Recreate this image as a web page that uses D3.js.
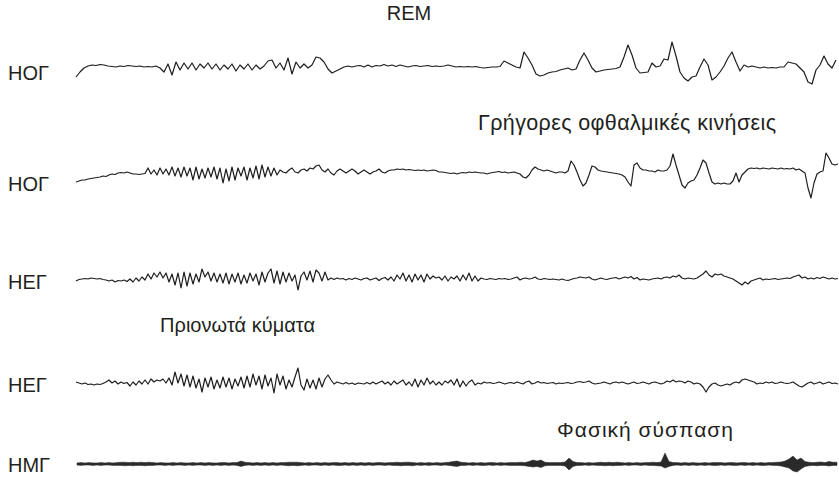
<!DOCTYPE html>
<html>
<head>
<meta charset="utf-8">
<script src="https://cdn.jsdelivr.net/npm/d3@7"></script>
<style>
  html, body { margin: 0; padding: 0; background: #ffffff; }
  svg text { font-family: "Liberation Sans", Arial, Helvetica, sans-serif; fill: #231f20; }
</style>
</head>
<body>
<svg id="chart" width="839" height="477"></svg>
<script>
// ---- Data (amplitudes in arbitrary units, positive = upward deflection) ----
const title = "REM";
const channelLabels = ["ΗΟΓ", "ΗΟΓ", "ΗΕΓ", "ΗΕΓ", "ΗΜΓ"];
const annotations = ["Γρήγορες οφθαλμικές κινήσεις", "Πριονωτά κύματα", "Φασική σύσπαση"];

// Top EOG channel
const eog1 = [-10,-5,-1,1,2,1.5,2.5,2,1,0.5,
  0,1,0.5,1.5,1,0.5,1,0,0.5,0,
  1,-1,-5,3,-8,5,-3,4,-2,4,
  -3,3,-1,4,-2,3,-3,2,-2,3,
  -4,2,-2,3,-3,2,-2,1,6,7,
  -1,4,-3,9,-7,5,-1,3,-1,2,
  10,9,5,-2,-6,-4,-2,0,1,0,
  1,1.5,0,2,0,1.5,1,2.5,1,2,
  0.5,2,1,0,1,1.5,0.5,1,1.5,0.5,
  1,0.5,1,2,1,0,0.5,0,0.5,0,
  0.5,-0.5,-1,-0.5,0,0,0.5,6,4,2,
  0,-1,15,9,2,-7,-9,-8,-6,-5,
  -4.5,-3,-2,-1,-3,-2,7,14,7,-1,
  -5,-4,-3,-2.5,-2,-1.5,0,10,22,12,
  -1,-6,-5.5,-5,4,0,1,8,7,25,
  11,-5,-11,-14,-10,-9,0,8,2,-13,
  -10,-5,1,9,15,5,-4,2,0,1,
  0,-1,0,-1,-0.5,-1,0,0,5,4,
  3,-1,-5,-15,-17,-3,2,11,3,-1,
  7];

// Second EOG channel
const eog2 = [-9,-8,-7,-7,-6,-5.5,-5,-4.5,-4,-3,
  -3.5,-2,-1,-1.5,0,0.5,0,1,0,-1,
  -1,-1.5,-1,-0.5,5,-1,3,-2,5,-1,
  4,-2,6,-3,5,-4,
  6,-3,5,-7,6,-6,4,-5,5,-4,
  6,-6,5,-10,4,-8,6,-7,5,-3,
  6,-7,5,-5,7,-6,8,-4,6,-3,
  5,-2,
  3,1,0,3,5,1,0,3,4,2,
  5,4,7,8,3,1,4,0,-2,2,
  4,2,0,2,4,2,-1,1,3,1,
  -1,1,2,4,1,0,2,3,3,4,
  3.5,4,3,3.5,3,2.5,3,2.5,3,2,
  2.5,3,2.5,1,
  1,0.5,0,-0.5,0,-1,0,0.5,0,1,
  0.5,1,0.5,0,0,-1,0,0.5,1,1.5,
  0.5,1,
  0,0.5,1,0,-1,-4,-5,-2,3,6,
  4,3,2,3,2,1,0,1,1,0,
  2,12,8,1,-7,-13,-10,-2,7,6,
  3,2,1.5,1,0.5,0,-0.5,-1,-2,-4,
  -9,-13,8,10,5,3,3,2,2,1,
  3,2,2,3,7,19,8,-2,-12,-15,
  -10,-8,-7,-2,5,13,10,0,-9,-11,
  -10,-11,-10,-11,-11,-8,0,-9,-2,1,
  4,5,4.5,5,4,5,4.5,4,5,4.5,
  4,5,4,4.5,4,5,3,4,2,0,
  -15,-25,-10,-1,1,2,20,15,9,8,
  9];

// First EEG channel
const eeg1 = [-2,-0.5,0,0.5,0,1,0.5,0,0.5,-0.5,
  -1,-2,-1,-3,-1.5,-2,-1,-2.5,0,-3,
  1,-2,2,-1,5,0,6,2,7,1,
  6,-3,5,-6,6,-9,7,-7,6,-5,
  5,-3,10,2,7,-2,6,-3,5,-4,
  6,-5,5,-3,6,-5,4,-4,6,-2,
  5,-6,7,-3,6,10,-4,8,-5,7,
  -3,6,-2,4,-11,3,7,-1,8,-3,
  9,6,-2,7,-1,1,-0.5,1,0,0.5,
  -1,0.5,-0.5,1,0,-1,0.5,1,-1,0,
  1,-1.5,0.5,1.5,-1,2,-2,4,0,6,
  -2,4,-3,5,-1,4,-3,5,0,3,
  1,2,-1,3,-2,2,0,3,-2,4,
  -1,6,-2,3,-2,1,0,-0.5,0.5,0,
  -0.5,0.5,0,0.5,-0.5,0,1,2,-1,0.5,
  1,0,0.5,2,0,-0.5,0.5,0,-0.5,0,
  -0.5,-1,0,-1,-1.5,-0.5,0.5,1,2,1.5,
  1,2,0,-1,0,1,0,-0.5,0.5,1,
  1.5,0,1,2,1,2.5,0,1.5,-1,0,
  -0.5,-1,0,0.5,1,0,1.5,2,1,3,
  2,4,1,0,1,0.5,0,1,3,5,
  8,4,2,5,4,5,3,2,1,0,
  -2,-4,-6,-3,-5,-2,-1,0,1,-1,
  0,-0.5,0,0.5,-0.5,0,0.5,1,0.5,2,
  3,4,1,2,0,1,0,1.5,0.5,2,
  1,0,1,0,0.5];

// Second EEG channel
const eeg2 = [1,0,-1,0,-1.5,-1,-2,-1,-1.5,-0.5,
  1,3,0,2,-1,1,-0.5,0.5,-3,1,
  -2,2,-1,3,-1,4,1,3,2,4,
  0,5,-2,11,0,9,-3,8,-4,7,
  -5,4,-9,5,-4,6,-6,3,-5,6,
  -4,5,-6,4,-3,6,-5,7,-4,9,
  -2,7,-6,8,-3,5,-10,9,-2,7,
  -6,3,-4,6,15,-2,-7,4,-5,3,
  -6,5,-4,4,8,3,-1,1,0,-1,
  0.5,-1,0,-1.5,0,-0.5,-1,0.5,-1,1,
  -1,0.5,2,-1,1,-2,2,-1,1,3,
  -2,1,-3,4,-4,3,-2,5,-1,2,
  -2,1,-2,2,0,3,-2,4,-4,2,
  -3,1,3,-2,0,-1,1,0,0.5,-0.5,
  0,1,0,-1,0,0.5,-0.5,1,0,-1,
  1,2,-1,0,1.5,0,0.5,-0.5,0,0.5,
  -1,0,-0.5,0,0.5,-0.5,0,1,1.5,0.5,
  1,2,0,-1,-0.5,0,1,0,-1,0.5,
  1,0,1,0,-1,0,1,-0.5,0,1,
  0,-1,0.5,1,0,-1,0,2,1,3,
  1,2,1.5,0,2,1,-1,0,-1,-4,
  -9,-4,-1,0,-2,-3,-2,-1,-2,0,
  1,0,3,4,3,2,1,-1,0,-0.5,
  1,0,1,-0.5,0,1,0,-0.5,0,1,
  -1,-3,-4,-2,0,1,-1,0,1,-1,
  0,1,-0.5,0,-1];

// EMG envelope (upper and lower excursion per bin)
const emgHi = [1.1,1.4,1.1,1.4,1.1,1.1,1.4,1.1,1.4,1.1,
  1.4,1.8,1.8,1.4,1.8,1.4,1.8,1.4,1.8,1.4,
  1.1,1.4,1.1,1.1,1.4,1.1,1.4,1.1,1.1,1.4,
  1.1,1.4,1.1,1.4,1.1,1.1,1.4,1.4,1.1,1.4,
  1.4,3,1.8,1.4,1.1,1.4,1.1,1.4,1.1,1.4,
  1.1,1.4,1.4,1.8,1.8,1.8,1.4,1.1,1.4,1.1,
  1.4,1.1,1.4,1.1,1.4,1.4,1.1,1.4,1.1,1.4,
  1.1,1.4,1.1,1.4,1.1,1.4,1.4,1.1,1.4,1.4,
  1.8,1.4,1.8,1.8,1.4,1.1,1.4,1.1,1.4,1.1,
  1.4,1.1,1.4,1.8,2.5,3,1.8,1.4,1.1,1.4,
  1.1,1.4,1.1,1.4,1.4,1.1,1.4,1.1,1.4,1.4,
  1.4,1.8,1.4,2.5,4,3,4,1.8,1.4,1.4,
  1.4,1.4,2,6,2.5,1.4,1.4,1.1,1.4,1.1,
  1.4,1.8,1.4,1.8,1.4,1.8,1.4,1.1,1.4,1.1,
  1.4,1.1,1.4,1.4,1.8,1.4,2,11,2.5,1.4,
  1.4,1.1,1.4,1.1,1.4,1.1,1.1,1.4,1.1,1.4,
  1.4,1.4,1.1,1.4,1.4,1.1,1.4,1.4,1.1,1.4,
  1.1,1.4,1.1,1.4,1.4,1.8,2,3,5,8,
  4,6,2.5,1.8,1.4,1.8,2,1.4,2.5,1.8,1.8];
const emgLo = [-1.1,-1.4,-1.1,-1.1,-1.4,-1.1,-1.4,-1.1,-1.1,-1.4,
  -1.4,-1.4,-1.8,-1.4,-1.8,-1.4,-1.4,-1.8,-1.4,-1.4,
  -1.1,-1.1,-1.4,-1.1,-1.4,-1.1,-1.1,-1.4,-1.1,-1.4,
  -1.1,-1.1,-1.4,-1.1,-1.4,-1.1,-1.4,-1.1,-1.4,-1.1,
  -1.4,-2.5,-1.4,-1.1,-1.4,-1.1,-1.4,-1.1,-1.4,-1.1,
  -1.4,-1.1,-1.4,-1.8,-1.4,-1.8,-1.4,-1.1,-1.4,-1.1,
  -1.1,-1.4,-1.1,-1.4,-1.1,-1.4,-1.4,-1.1,-1.4,-1.1,
  -1.4,-1.1,-1.4,-1.1,-1.4,-1.1,-1.1,-1.4,-1.1,-1.4,
  -1.4,-1.8,-1.4,-1.4,-1.8,-1.1,-1.4,-1.1,-1.4,-1.1,
  -1.1,-1.4,-1.1,-1.4,-2,-2.5,-1.4,-1.4,-1.1,-1.4,
  -1.1,-1.4,-1.4,-1.1,-1.4,-1.1,-1.4,-1.1,-1.4,-1.4,
  -1.4,-1.4,-1.8,-2.5,-3,-2.5,-3.5,-1.8,-1.4,-1.4,
  -1.4,-1.4,-2,-6,-2.5,-1.4,-1.4,-1.1,-1.4,-1.1,
  -1.4,-1.4,-1.8,-1.4,-1.8,-1.4,-1.4,-1.1,-1.4,-1.1,
  -1.1,-1.4,-1.1,-1.4,-1.4,-1.8,-2,-4,-2.5,-1.4,
  -1.1,-1.4,-1.1,-1.4,-1.1,-1.4,-1.1,-1.4,-1.1,-1.4,
  -1.4,-1.1,-1.4,-1.1,-1.4,-1.4,-1.1,-1.4,-1.1,-1.4,
  -1.1,-1.4,-1.4,-1.1,-1.4,-1.4,-2,-3,-4,-7,
  -8,-5,-2.5,-1.8,-1.4,-1.8,-1.4,-1.4,-2,-1.4,-1.4];

// ---- Layout ----
const svg = d3.select("#chart");
const labelSize = 20;

const channels = [
  { label: channelLabels[0], data: eog1, base: 67,  x0: 76, x1: 836, labelY: 80 },
  { label: channelLabels[1], data: eog2, base: 173, x0: 76, x1: 838, labelY: 191 },
  { label: channelLabels[2], data: eeg1, base: 279, x0: 76, x1: 838, labelY: 289 },
  { label: channelLabels[3], data: eeg2, base: 383, x0: 76, x1: 838, labelY: 392 }
];

channels.forEach(ch => {
  const x = d3.scaleLinear().domain([0, ch.data.length - 1]).range([ch.x0, ch.x1]);
  const y = d3.scaleLinear().domain([-30, 30]).range([ch.base + 30, ch.base - 30]);
  const line = d3.line().x((d, i) => x(i)).y(d => y(d));
  svg.append("path")
    .datum(ch.data)
    .attr("d", line)
    .attr("fill", "none")
    .attr("stroke", "#1e1e1e")
    .attr("stroke-width", 1.2)
    .attr("stroke-linejoin", "round");
  svg.append("text")
    .attr("x", 8).attr("y", ch.labelY)
    .attr("font-size", labelSize)
    .text(ch.label);
});

// EMG band
{
  const base = 464;
  const x = d3.scaleLinear().domain([0, emgHi.length - 1]).range([77, 837]);
  const y = d3.scaleLinear().domain([-30, 30]).range([base + 30, base - 30]);
  const area = d3.area().x((d, i) => x(i)).y0((d, i) => y(emgLo[i])).y1(d => y(d));
  svg.append("path")
    .datum(emgHi)
    .attr("d", area)
    .attr("fill", "#2a2a2a")
    .attr("stroke", "#2a2a2a")
    .attr("stroke-width", 0.5);
  svg.append("text")
    .attr("x", 8).attr("y", 472)
    .attr("font-size", labelSize)
    .text(channelLabels[4]);
}

// Title and annotations
svg.append("text").attr("x", 409).attr("y", 20).attr("text-anchor", "middle")
  .attr("font-size", 20).text(title);
svg.append("text").attr("x", 478).attr("y", 130).attr("font-size", 21.5)
  .attr("textLength", 298).attr("lengthAdjust", "spacing").text(annotations[0]);
svg.append("text").attr("x", 160).attr("y", 332).attr("font-size", 20)
  .attr("textLength", 155).attr("lengthAdjust", "spacing").text(annotations[1]);
svg.append("text").attr("x", 557).attr("y", 437).attr("font-size", 21)
  .attr("textLength", 176).attr("lengthAdjust", "spacing").text(annotations[2]);
</script>
</body>
</html>
